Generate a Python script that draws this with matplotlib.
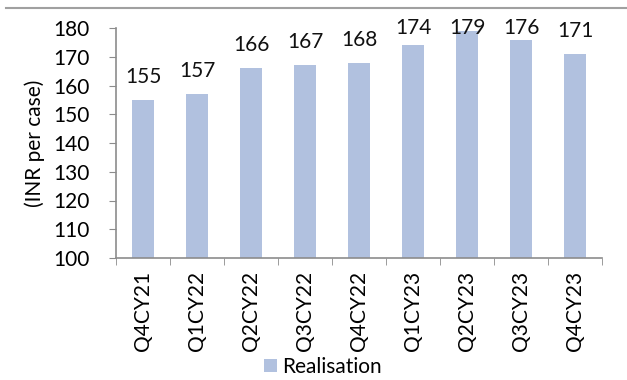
import matplotlib
matplotlib.use("Agg")
import matplotlib.pyplot as plt
import numpy as np

quarters = ["Q4CY21", "Q1CY22", "Q2CY22", "Q3CY22", "Q4CY22",
            "Q1CY23", "Q2CY23", "Q3CY23", "Q4CY23"]
realisation = [155, 157, 166, 167, 168, 174, 179, 176, 171]
y_ticks = list(range(100, 181, 10))

BAR_COLOR = "#b1c1df"
AXIS_COLOR = "#8c8c8c"
FS = 15

plt.rcParams.update({"font.family": ["Lato", "DejaVu Sans"], "font.size": FS})

fig = plt.figure(figsize=(6.27, 3.80), dpi=100)
ax = fig.add_axes([116 / 627, 1 - 258 / 380, (602 - 116) / 627, (258 - 28) / 380])

x = np.arange(len(quarters))
bars = ax.bar(x, realisation, width=0.4, color=BAR_COLOR, label="Realisation", zorder=2)
# value labels sit above each bar but are kept inside the plot area
for xi, v in zip(x, realisation):
    ax.text(xi, min(v + 8, 180), f"{v}", ha="center", va="center",
            fontsize=FS, color="#111111", clip_on=False)

ax.set_ylim(100, 180)
ax.set_xlim(-0.5, len(quarters) - 0.5)
ax.set_yticks(y_ticks)
ax.set_xticks(x)
ax.set_xticklabels(quarters, rotation=90)
ax.set_xticks(np.arange(len(quarters) + 1) - 0.5, minor=True)
ax.tick_params(axis="x", which="major", length=0, pad=9)
ax.tick_params(axis="x", which="minor", length=5, color=AXIS_COLOR, direction="out")
ax.tick_params(axis="y", length=5, color=AXIS_COLOR, direction="out", pad=14)
ax.set_ylabel("(INR per case)", fontsize=FS, labelpad=6)

for side in ("top", "right"):
    ax.spines[side].set_visible(False)
for side in ("left", "bottom"):
    ax.spines[side].set_color(AXIS_COLOR)
    ax.spines[side].set_linewidth(1.2)

fig.legend(handles=[bars], labels=["Realisation"], loc="center",
           bbox_to_anchor=(323 / 627, 1 - 367 / 380), frameon=False,
           handlelength=0.6, handleheight=0.6, handletextpad=0.25, fontsize=FS)

# rule across the top of the panel
fig.add_artist(plt.Line2D([6 / 627, 1.0], [1 - 8 / 380, 1 - 8 / 380],
                          transform=fig.transFigure, color="#a0a0a0", lw=1.5))

fig.savefig("out.png", dpi=100)
